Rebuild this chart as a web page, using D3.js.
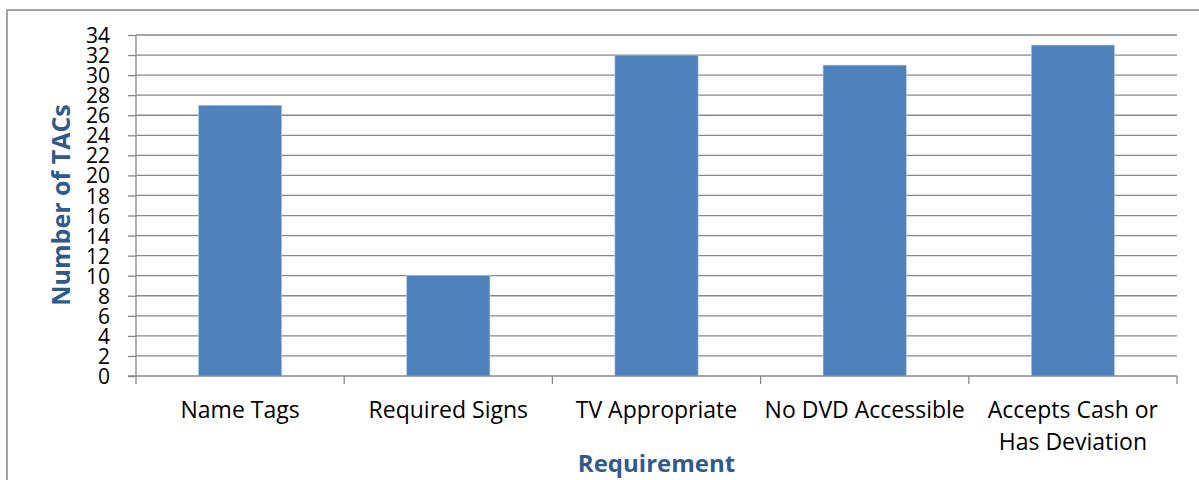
<!DOCTYPE html>
<html><head><meta charset="utf-8">
<script src="https://cdn.jsdelivr.net/npm/d3@7"></script>
<style>body{margin:0;background:#fff}svg{display:block}</style>
</head><body>
<svg id="c" width="1199" height="480"></svg>
<script>
const categories = ["Name Tags","Required Signs","TV Appropriate","No DVD Accessible","Accepts Cash or Has Deviation"];
const values = [27,10,32,31,33];
const yTicks = d3.range(0,35,2);
const yTitle = "Number of TACs";
const xTitle = "Requirement";

const svg = d3.select("#c");
const L=136, R=1177, T=35, B=376;
const font = "'Open Sans', sans-serif";

svg.append("rect").attr("x",7).attr("y",10).attr("width",1250).attr("height",500)
  .attr("fill","none").attr("stroke","#868686").attr("stroke-width",1.5);

const x = d3.scaleBand().domain(categories).range([L,R]).paddingInner(0.6).paddingOuter(0.3);
const xb = d3.scaleBand().domain(categories).range([L,R]);
const y = d3.scaleLinear().domain([0,34]).range([B,T]);

// gridlines
svg.append("g").selectAll("line").data(yTicks.filter(d=>d>0)).join("line")
  .attr("x1",L).attr("x2",R).attr("y1",d=>y(d)).attr("y2",d=>y(d))
  .attr("stroke","#888").attr("stroke-width",1.3);

// bars
svg.append("g").selectAll("rect").data(values).join("rect")
  .attr("x",(d,i)=>x(categories[i])).attr("width",x.bandwidth())
  .attr("y",d=>y(d)).attr("height",d=>y(0)-y(d))
  .attr("fill","#4F81BD").attr("stroke","#bcd0ea").attr("stroke-width",0.6);

// y axis
const ya = svg.append("g").attr("transform",`translate(${L},0)`)
  .call(d3.axisLeft(y).tickValues(yTicks).tickSize(8).tickPadding(18));
ya.select(".domain").attr("stroke","#888").attr("stroke-width",1.3).attr("d",`M-0,${T}V${B}`);
ya.selectAll(".tick line").attr("stroke","#888").attr("stroke-width",1.3);
ya.selectAll(".tick text").attr("font-family",font).attr("font-size",21).attr("fill","#000").attr("dy","0.36em");

// x axis
const xa = svg.append("g").attr("transform",`translate(0,${B})`);
xa.append("line").attr("x1",L-8).attr("x2",R).attr("y1",0).attr("y2",0).attr("stroke","#888").attr("stroke-width",1.3);
const edges = categories.map(c=>xb(c)).concat([R]);
xa.selectAll("line.t").data(edges).join("line").attr("class","t")
  .attr("x1",d=>d).attr("x2",d=>d).attr("y1",0).attr("y2",8).attr("stroke","#888").attr("stroke-width",1.3);
const lab = xa.selectAll("text.c").data(categories).join("text").attr("class","c")
  .attr("x",d=>xb(d)+xb.bandwidth()/2).attr("y",42)
  .attr("text-anchor","middle").attr("font-family",font).attr("font-size",23).attr("fill","#000");
lab.each(function(d){
  const t=d3.select(this);
  const parts = d==="Accepts Cash or Has Deviation" ? ["Accepts Cash or","Has Deviation"] : [d];
  parts.forEach((p,i)=>t.append("tspan").attr("x",xb(d)+xb.bandwidth()/2).attr("dy",i?32:0).text(p));
});

svg.append("text").attr("x",(L+R)/2).attr("y",472).attr("text-anchor","middle")
  .attr("font-family",font).attr("font-weight","bold").attr("font-size",24).attr("fill","#2F5A8E").text(xTitle);
svg.append("text").attr("transform",`translate(70,205) rotate(-90)`).attr("text-anchor","middle")
  .attr("font-family",font).attr("font-weight","bold").attr("font-size",25).attr("fill","#2F5A8E").text(yTitle);
</script>
</body></html>
